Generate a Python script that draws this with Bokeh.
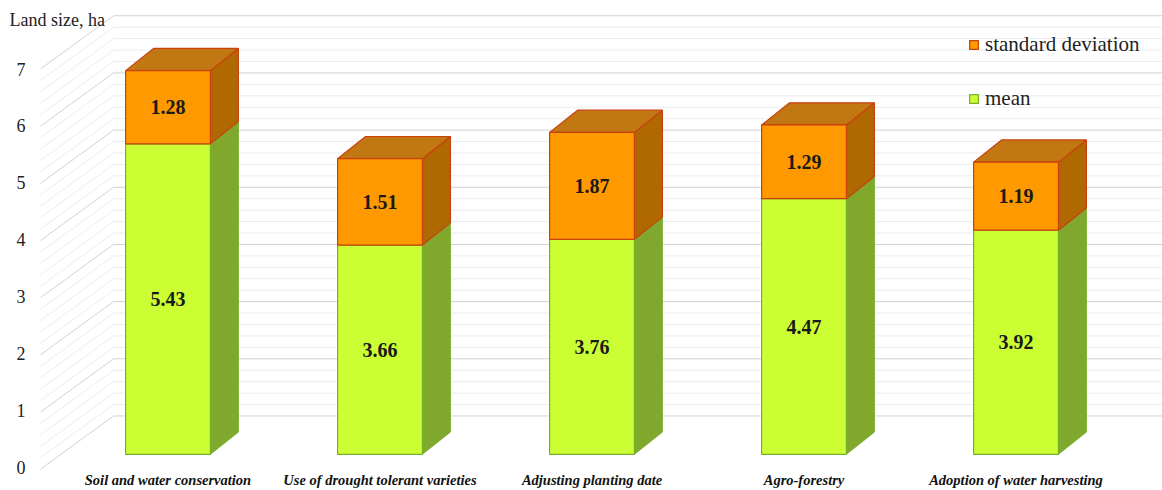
import numpy as np
from bokeh.plotting import figure
from bokeh.models import (Range1d, LinearAxis, FixedTicker, Label, Legend,
                          LegendItem, ColumnDataSource)
from bokeh.core.properties import value
from bokeh.embed import file_html
from bokeh.resources import INLINE

# ---- data -------------------------------------------------------------
categories = [
    "Soil and water conservation",
    "Use of drought tolerant varieties",
    "Adjusting planting date",
    "Agro-forestry",
    "Adoption of water harvesting",
]
mean_vals = [5.43, 3.66, 3.76, 4.47, 3.92]
sd_vals = [1.28, 1.51, 1.87, 1.29, 1.19]
y_ticks = [0, 1, 2, 3, 4, 5, 6, 7]
series_names = ["standard deviation", "mean"]
axis_title = "Land size, ha"

# ---- 3-D look (data units) --------------------------------------------
BAR_W = 0.40            # width of a column's front face
DX, DY = 0.132, 0.388   # depth offset of a column (right / up)
X_LO, X_HI = -0.790, 4.691
Y_LO, Y_HI = -0.441, 7.937
WALL_FRONT_X, WALL_BACK_X = -0.601, -0.257
WALL_FRONT_DY, WALL_BACK_DY = -0.26, 0.67
# tick labels sit on the front edge of the side wall (own, slightly finer scale)
AXIS_LO, AXIS_HI = -0.2127, 8.205

FONT = "Times New Roman"
MEAN_FACE, MEAN_SIDE, MEAN_EDGE = "#CCFF33", "#80A82C", "#76B02E"
SD_FACE, SD_SIDE, SD_TOP, SD_EDGE = "#FF9900", "#B06800", "#C27812", "#C8400F"

p = figure(width=1162, height=490,
           x_range=Range1d(X_LO, X_HI), y_range=Range1d(Y_LO, Y_HI),
           output_backend="svg", toolbar_location=None,
           x_axis_type=None, y_axis_type=None,
           min_border_left=0, min_border_right=0,
           min_border_top=0, min_border_bottom=0,
           outline_line_color=None, background_fill_color="white")
p.extra_y_ranges = {"front": Range1d(AXIS_LO, AXIS_HI)}

# ---- walls: back wall horizontals and side wall diagonals -------------
levels = np.round(np.arange(0, max(y_ticks) + 0.001, 0.2), 1)
for is_major, color in ((False, "#ECECEC"), (True, "#D2D2D2")):
    lv = [v for v in levels if (abs(v - round(v)) < 1e-9) == is_major]
    p.multi_line(xs=[[WALL_BACK_X, X_HI] for _ in lv],
                 ys=[[v + WALL_BACK_DY, v + WALL_BACK_DY] for v in lv],
                 line_color=color, line_width=1)
    p.multi_line(xs=[[WALL_FRONT_X, WALL_BACK_X] for _ in lv],
                 ys=[[v + WALL_FRONT_DY, v + WALL_BACK_DY] for v in lv],
                 line_color=color, line_width=1)

# ---- columns ----------------------------------------------------------
def faces(bottoms, tops):
    front_x, front_y, side_x, side_y = [], [], [], []
    for i, (y0, y1) in enumerate(zip(bottoms, tops)):
        x0, x1 = i - BAR_W / 2, i + BAR_W / 2
        front_x.append([x0, x1, x1, x0])
        front_y.append([y0, y0, y1, y1])
        side_x.append([x1, x1 + DX, x1 + DX, x1])
        side_y.append([y0, y0 + DY, y1 + DY, y1])
    return front_x, front_y, side_x, side_y

mean_bottom = [0.0] * len(mean_vals)
mean_top = list(mean_vals)
sd_bottom = list(mean_vals)
sd_top = [m + s for m, s in zip(mean_vals, sd_vals)]

mfx, mfy, msx, msy = faces(mean_bottom, mean_top)
sfx, sfy, ssx, ssy = faces(sd_bottom, sd_top)
top_x = [[i - BAR_W / 2, i + BAR_W / 2, i + BAR_W / 2 + DX, i - BAR_W / 2 + DX]
         for i in range(len(categories))]
top_y = [[t, t, t + DY, t + DY] for t in sd_top]

p.patches(msx, msy, fill_color=MEAN_SIDE, line_color=MEAN_EDGE, line_width=1)
mean_front = p.patches(mfx, mfy, fill_color=MEAN_FACE, line_color=MEAN_EDGE, line_width=1.2)
p.patches(ssx, ssy, fill_color=SD_SIDE, line_color=SD_EDGE, line_width=1.2)
p.patches(top_x, top_y, fill_color=SD_TOP, line_color=SD_EDGE, line_width=1.2)
sd_front = p.patches(sfx, sfy, fill_color=SD_FACE, line_color=SD_EDGE, line_width=1.2)

# ---- value labels -----------------------------------------------------
lab = ColumnDataSource(dict(
    x=list(range(len(categories))) * 2,
    y=[(a + b) / 2 for a, b in zip(mean_bottom, mean_top)] +
      [(a + b) / 2 for a, b in zip(sd_bottom, sd_top)],
    t=[f"{v:.2f}" for v in mean_vals] + [f"{v:.2f}" for v in sd_vals],
))
p.text(x="x", y="y", text="t", source=lab, text_align="center",
       text_baseline="middle", text_font=value(FONT), text_font_style="bold",
       text_font_size="20px", text_color="#1A1A1A")

# ---- axes -------------------------------------------------------------
yaxis = LinearAxis(y_range_name="front", ticker=FixedTicker(ticks=y_ticks),
                   axis_line_color=None, major_tick_line_color=None,
                   major_tick_out=0, major_tick_in=0,
                   minor_tick_line_color=None, major_label_standoff=-25,
                   major_label_text_font=FONT, major_label_text_font_size="18px",
                   major_label_text_color="#222222")
p.add_layout(yaxis, "left")

xaxis = LinearAxis(ticker=FixedTicker(ticks=list(range(len(categories)))),
                   major_label_overrides={i: c for i, c in enumerate(categories)},
                   axis_line_color=None, major_tick_line_color=None,
                   major_tick_out=0, major_tick_in=0,
                   minor_tick_line_color=None, major_label_standoff=-8,
                   major_label_text_font=FONT,
                   major_label_text_font_style="bold italic",
                   major_label_text_font_size="14.5px",
                   major_label_text_color="#111111")
p.add_layout(xaxis, "below")

p.add_layout(Label(x=9, y=460, x_units="screen", y_units="screen",
                   text=axis_title, text_font=FONT, text_font_size="18px",
                   text_color="#222222", text_baseline="middle", text_align="left"))

# ---- legend -----------------------------------------------------------
legend = Legend(items=[LegendItem(label=series_names[0], renderers=[sd_front]),
                       LegendItem(label=series_names[1], renderers=[mean_front])],
                location=(968, 368), glyph_width=11, glyph_height=11,
                label_standoff=6, spacing=29, padding=0, margin=0,
                label_text_font=FONT, label_text_font_size="21px",
                label_text_color="#222222",
                border_line_color=None, background_fill_alpha=0)
p.add_layout(legend)

open("out.html", "w").write(file_html(p, INLINE))
